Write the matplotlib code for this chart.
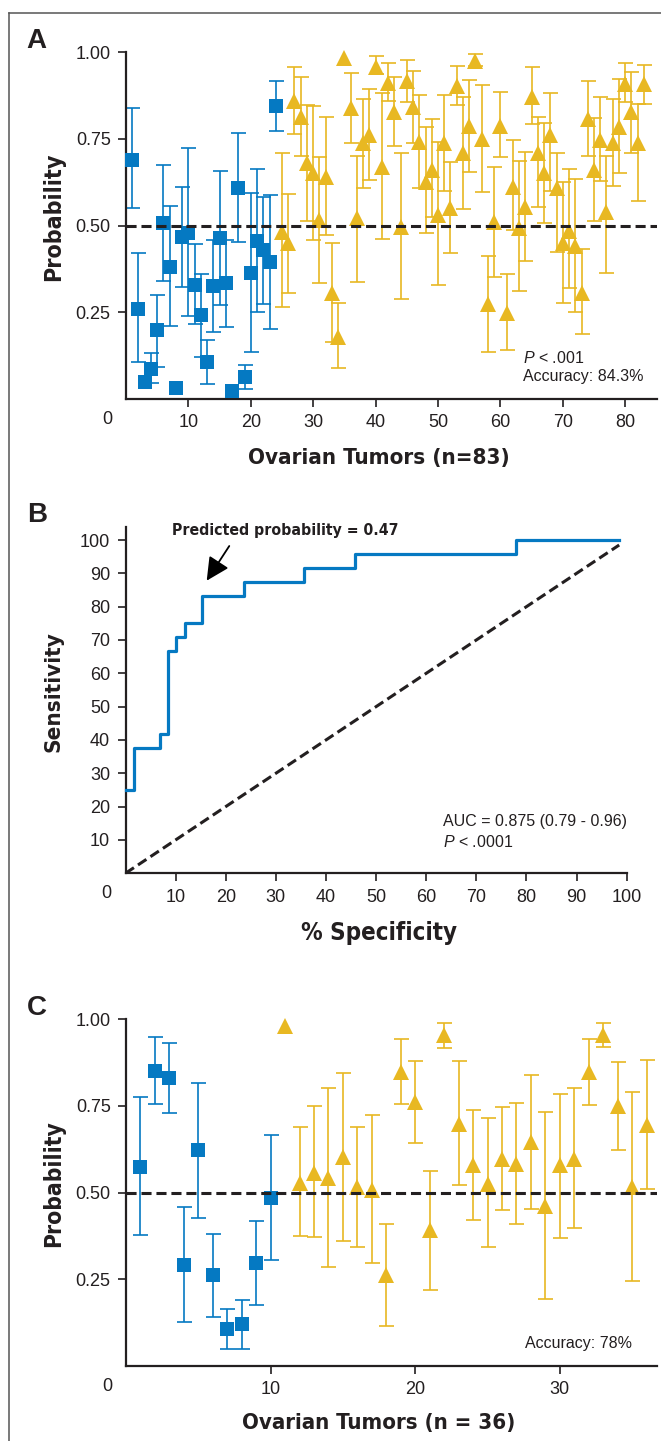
import numpy as np
import matplotlib
matplotlib.use('Agg')
import matplotlib.pyplot as plt
from matplotlib.lines import Line2D
from matplotlib import font_manager

plt.rcParams['font.family'] = ['Liberation Sans', 'DejaVu Sans']
plt.rcParams['mathtext.fontset'] = 'custom'
plt.rcParams['mathtext.rm'] = 'Liberation Sans'
plt.rcParams['mathtext.it'] = 'Liberation Sans:italic'

BLUE = '#0579c2'
GOLD = '#e8b822'
INK = '#231f20'

# pick a narrow bold face for the axis titles, whatever is installed
_fonts = font_manager.fontManager.ttflist
_names = {f.name for f in _fonts}
if 'Liberation Sans Narrow' in _names:
    NARROW = dict(family='Liberation Sans Narrow', weight='bold')
    WIDEN = 1.0
elif any(f.name == 'DejaVu Sans' and 'condensed' in str(f.stretch) for f in _fonts):
    NARROW = dict(family='DejaVu Sans', stretch='condensed', weight='bold')
    WIDEN = 1.1
elif 'Roboto' in _names:
    NARROW = dict(family='Roboto', weight='bold')
    WIDEN = 1.1
else:
    NARROW = dict(family='DejaVu Sans', weight='bold')
    WIDEN = 1.1

# panel A: training set, 83 tumors (benign 1-24, malignant 25-83)
a_benign_p = [0.69, 0.26, 0.048, 0.088, 0.199, 0.509, 0.38, 0.031, 0.468, 0.48, 0.329, 0.242,
              0.106, 0.326, 0.463, 0.334, 0.024, 0.61, 0.063, 0.364, 0.457, 0.43, 0.396, 0.845]
a_benign_hi = [0.84, 0.42, np.nan, 0.134, 0.30, 0.675, 0.557, np.nan, 0.612, 0.723, 0.446, 0.36,
               0.17, 0.459, 0.659, 0.46, np.nan, 0.768, 0.098, 0.595, 0.663, 0.584, 0.588, 0.918]
a_benign_lo = [0.55, 0.107, np.nan, 0.045, 0.093, 0.34, 0.21, np.nan, 0.324, 0.24, 0.216, 0.122,
               0.042, 0.194, 0.271, 0.207, np.nan, 0.454, 0.029, 0.136, 0.25, 0.273, 0.201, 0.773]

a_malig_p = [0.483, 0.449, 0.86, 0.814, 0.68, 0.651, 0.516, 0.641, 0.305, 0.18,
             0.983, 0.838, 0.521, 0.737, 0.761, 0.959, 0.67, 0.911, 0.827, 0.497,
             0.918, 0.841, 0.742, 0.627, 0.66, 0.531, 0.737, 0.55, 0.903, 0.711,
             0.787, 0.975, 0.749, 0.274, 0.511, 0.787, 0.247, 0.612, 0.492, 0.555,
             0.872, 0.71, 0.651, 0.761, 0.608, 0.449, 0.485, 0.44, 0.307, 0.807,
             0.66, 0.747, 0.54, 0.739, 0.785, 0.91, 0.829, 0.737, 0.91]
a_malig_hi = [0.709, 0.591, 0.958, 0.928, 0.848, 0.845, 0.699, 0.812, 0.451, 0.278,
              np.nan, 0.941, 0.70, 0.864, 0.893, 0.989, 0.882, 0.97, 0.928, 0.71,
              0.978, 0.946, 0.877, 0.785, 0.808, 0.742, 0.877, 0.683, 0.96, 0.87,
              0.92, 0.995, 0.906, 0.412, 0.67, 0.885, 0.36, 0.747, 0.686, 0.713,
              0.957, 0.814, 0.797, 0.884, 0.71, 0.627, 0.663, 0.634, 0.432, 0.917,
              0.811, 0.872, 0.70, 0.865, 0.923, 0.97, 0.944, 0.85, 0.963]
a_malig_lo = [0.266, 0.305, 0.764, 0.702, 0.514, 0.46, 0.336, 0.473, 0.165, 0.09,
              np.nan, 0.737, 0.338, 0.61, 0.632, 0.937, 0.461, 0.86, 0.73, 0.288,
              0.857, 0.737, 0.608, 0.478, 0.524, 0.329, 0.60, 0.42, 0.848, 0.547,
              0.656, 0.96, 0.596, 0.136, 0.353, 0.699, 0.141, 0.487, 0.312, 0.399,
              0.793, 0.553, 0.509, 0.60, 0.425, 0.278, 0.319, 0.252, 0.187, 0.702,
              0.514, 0.63, 0.363, 0.614, 0.653, 0.857, 0.709, 0.572, 0.851]

# panel B: ROC curve
roc_x = [0, 1.69, 6.78, 8.47, 10.17, 11.86, 15.25, 23.73, 35.59, 45.76, 77.97, 98.5]
roc_y = [25, 37.5, 41.67, 66.67, 70.83, 75, 83.33, 87.5, 91.67, 95.83, 100, 100]

# panel C: validation set, 36 tumors (benign 1-10, malignant 11-36)
c_benign_p = [0.574, 0.85, 0.829, 0.292, 0.622, 0.262, 0.108, 0.12, 0.297, 0.485]
c_benign_hi = [0.776, 0.947, 0.93, 0.457, 0.817, 0.38, 0.165, 0.19, 0.418, 0.665]
c_benign_lo = [0.377, 0.754, 0.73, 0.127, 0.427, 0.141, 0.05, 0.05, 0.177, 0.307]

c_malig_p = [0.981, 0.529, 0.557, 0.543, 0.603, 0.516, 0.507, 0.262, 0.848, 0.762,
             0.391, 0.954, 0.699, 0.579, 0.526, 0.598, 0.582, 0.646, 0.462, 0.579,
             0.598, 0.848, 0.954, 0.749, 0.516, 0.694]
c_malig_hi = [np.nan, 0.688, 0.749, 0.802, 0.845, 0.688, 0.723, 0.408, 0.944, 0.879,
              0.562, 0.989, 0.879, 0.737, 0.714, 0.747, 0.759, 0.838, 0.733, 0.784,
              0.80, 0.942, 0.989, 0.877, 0.79, 0.882]
c_malig_lo = [np.nan, 0.375, 0.372, 0.286, 0.36, 0.343, 0.298, 0.115, 0.754, 0.644,
              0.218, 0.917, 0.523, 0.422, 0.343, 0.451, 0.409, 0.454, 0.194, 0.37,
              0.399, 0.752, 0.92, 0.622, 0.244, 0.51]


def fit_width(fig, txt, target_px, vertical=False):
    # shrink/grow a text so that it spans about target_px, like the original condensed face
    r = fig.canvas.get_renderer()
    bb = txt.get_window_extent(renderer=r)
    size = bb.height if vertical else bb.width
    txt.set_fontsize(txt.get_fontsize() * target_px * WIDEN / size)


def style_axes(ax):
    for side in ['top', 'right']:
        ax.spines[side].set_visible(False)
    for side in ['left', 'bottom']:
        ax.spines[side].set_linewidth(1.6)
        ax.spines[side].set_color(INK)
    ax.tick_params(axis='both', direction='out', length=6, width=1.2, color=INK,
                   labelsize=13, labelcolor=INK, pad=5)
    ax.annotate('0', xy=(0, 0), xycoords='axes fraction', xytext=(-13.5, -14.5),
                textcoords='offset points', ha='center', va='center', fontsize=13, color=INK)


def plot_group(ax, x0, p, hi, lo, color, marker, size):
    x = np.arange(x0, x0 + len(p))
    p = np.array(p)
    err = [p - np.array(lo), np.array(hi) - p]
    ax.errorbar(x, p, yerr=err, fmt='none', ecolor=color, elinewidth=1.2,
                capsize=5.4, capthick=1.2, zorder=2, clip_on=False)
    ax.plot(x, p, linestyle='none', marker=marker, markersize=size, color=color,
            markeredgewidth=0, zorder=3, clip_on=False)


def probability_panel(ax, xmax, xticks, benign, malig, xlabel, label_y):
    plot_group(ax, 1, *benign, BLUE, 's', 10.2)
    plot_group(ax, len(benign[0]) + 1, *malig, GOLD, '^', 11.5)
    ax.axhline(0.5, color=INK, linewidth=2.2, dashes=(3.3, 1.6), zorder=4)
    ax.set_xlim(0, xmax)
    ax.set_ylim(0, 1.0)
    ax.set_yticks([0.25, 0.5, 0.75, 1.0])
    ax.set_yticklabels(['0.25', '0.50', '0.75', '1.00'])
    ax.set_xticks(xticks)
    style_axes(ax)
    ax.set_ylabel('Probability', fontsize=19, color=INK, **NARROW)
    ax.yaxis.label.set_va('center')
    ax.yaxis.set_label_coords(-0.1357, 0.525)
    ax.set_xlabel(xlabel, fontsize=19, color=INK, **NARROW)
    ax.xaxis.label.set_va('center')
    ax.xaxis.set_label_coords(0.477, label_y)


fig = plt.figure(figsize=(6.61, 14.41), dpi=100)

ax_a = fig.add_axes([0.1906, 0.7231, 0.8029, 0.2406])
probability_panel(ax_a, 85.05, range(10, 90, 10),
                  (a_benign_p, a_benign_hi, a_benign_lo),
                  (a_malig_p, a_malig_hi, a_malig_lo),
                  'Ovarian Tumors (n=83)', -0.170)
ax_a.text(63.7, 0.117, '$P$ < .001', fontsize=11.5, color=INK, va='center')
ax_a.text(63.7, 0.064, 'Accuracy: 84.3%', fontsize=11.5, color=INK, va='center')

ax_b = fig.add_axes([0.1899, 0.3940, 0.7582, 0.2405])
ax_b.step(roc_x, roc_y, where='post', color=BLUE, linewidth=2.3, zorder=3, clip_on=False)
ax_b.plot([0, 98.5], [0, 98.5], color=INK, linewidth=2.2, dashes=(3.3, 1.6), zorder=2)
ax_b.set_xlim(0, 100)
ax_b.set_ylim(0, 104)
ax_b.set_xticks(range(10, 110, 10))
ax_b.set_yticks(range(10, 110, 10))
style_axes(ax_b)
ax_b.set_ylabel('Sensitivity', fontsize=19, color=INK, **NARROW)
ax_b.yaxis.label.set_va('center')
ax_b.yaxis.set_label_coords(-0.1447, 0.523)
ax_b.set_xlabel('% Specificity', fontsize=19, color=INK, **NARROW)
ax_b.xaxis.label.set_va('center')
ax_b.xaxis.set_label_coords(0.506, -0.171)
ax_b.annotate('', xy=(16.2, 87.8), xytext=(20.7, 98.2),
              arrowprops=dict(arrowstyle='-|>,head_length=1.4,head_width=0.7',
                              color='black', linewidth=1.3, shrinkA=0, shrinkB=0),
              annotation_clip=False)
pred = ax_b.text(31.8, 102.8, 'Predicted probability = 0.47', fontsize=13.5, color=INK,
                 ha='center', va='center', clip_on=False, **NARROW)
ax_b.text(63.3, 15.5, 'AUC = 0.875 (0.79 - 0.96)', fontsize=11.5, color=INK, va='center')
ax_b.text(63.3, 9.5, '$P$ < .0001', fontsize=11.5, color=INK, va='center')

ax_c = fig.add_axes([0.1906, 0.0520, 0.8029, 0.2408])
probability_panel(ax_c, 36.7, [10, 20, 30],
                  (c_benign_p, c_benign_hi, c_benign_lo),
                  (c_malig_p, c_malig_hi, c_malig_lo),
                  'Ovarian Tumors (n = 36)', -0.165)
ax_c.text(27.6, 0.065, 'Accuracy: 78%', fontsize=11.5, color=INK, va='center')

# the original titles use a condensed face; match their lengths in pixels
fit_width(fig, ax_a.xaxis.label, 237)
fit_width(fig, ax_a.yaxis.label, 117, vertical=True)
fit_width(fig, ax_b.xaxis.label, 142)
fit_width(fig, ax_b.yaxis.label, 110, vertical=True)
fit_width(fig, ax_c.xaxis.label, 248)
fit_width(fig, ax_c.yaxis.label, 115, vertical=True)
fit_width(fig, pred, 205)

for letter, y in [('A', 0.9806), ('B', 0.6518), ('C', 0.3095)]:
    fig.text(0.0404, y, letter, fontsize=20, weight='bold', color=INK, ha='left', va='top')

# frame around the figure (left and top edges)
fig.add_artist(Line2D([9.3 / 661, 9.3 / 661], [0, 1 - 12.7 / 1441], color='#555555',
                      linewidth=1.1, transform=fig.transFigure))
fig.add_artist(Line2D([9.3 / 661, 1], [1 - 12.7 / 1441, 1 - 12.7 / 1441], color='#555555',
                      linewidth=1.1, transform=fig.transFigure))

fig.savefig('out.png', dpi=100)
